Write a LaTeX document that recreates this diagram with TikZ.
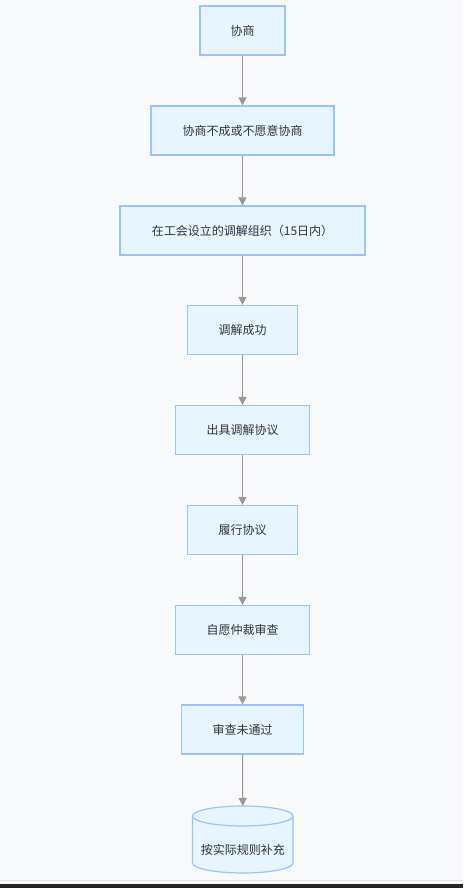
\documentclass[tikz,border=0pt]{standalone}
\usepackage{fontspec}
\newfontfamily\cjk{Noto Sans CJK SC}
\usetikzlibrary{arrows.meta}
\definecolor{bg}{HTML}{F8F9FB}
\definecolor{boxfill}{HTML}{E6F5FF}
\definecolor{boxline}{HTML}{99C2FF}
\definecolor{arrowc}{HTML}{999999}
\definecolor{txt}{HTML}{333333}
\tikzset{
  x=1pt,y=1pt,
  stepbox/.style={draw=boxline, fill=boxfill, line width=1.2pt, minimum height=49pt,
    inner sep=0pt, font=\cjk\fontsize{12}{14}\selectfont, text=txt},
  flow/.style={draw=arrowc, line width=1pt, -{Triangle[width=8pt,length=8pt]}}
}
\begin{document}
\begin{tikzpicture}
\useasboundingbox (0,0) rectangle (463,888);
\fill[bg] (0,7) rectangle (463,888);
\fill[white] (0,3.5) rectangle (463,6.5);
\fill[black!85] (0,0) rectangle (463,3.5);
\draw[black!12, line width=1pt] (0,7) -- (463,7);

\node[stepbox, minimum width=85pt]  (n1) at (242.5,857.5) {协商};
\node[stepbox, minimum width=183pt] (n2) at (242.5,757.5) {协商不成或不愿意协商};
\node[stepbox, minimum width=245pt] (n3) at (242.5,657.5) {在工会设立的调解组织（15日内）};
\node[stepbox, minimum width=110pt] (n4) at (242.5,558) {调解成功};
\node[stepbox, minimum width=134pt] (n5) at (242.5,458) {出具调解协议};
\node[stepbox, minimum width=110pt] (n6) at (242.5,358) {履行协议};
\node[stepbox, minimum width=134pt] (n7) at (242.5,258) {自愿仲裁审查};
\node[stepbox, minimum width=122pt] (n8) at (242.5,158.5) {审查未通过};

% cylinder
\filldraw[draw=boxline, fill=boxfill, line width=1.2pt]
  (192.5,72) -- (192.5,25) arc[start angle=180,end angle=360,x radius=50.25,y radius=10]
  -- (293,72) arc[start angle=0,end angle=180,x radius=50.25,y radius=10] -- cycle;
\draw[boxline, line width=1.2pt] (192.5,72) arc[start angle=180,end angle=360,x radius=50.25,y radius=10];
\coordinate (n9top) at (242.75,82);
\node[font=\cjk\fontsize{12}{14}\selectfont, text=txt] (n9) at (242.75,38) {按实际规则补充};

\draw[flow] (n1.south) -- (n2.north);
\draw[flow] (n2.south) -- (n3.north);
\draw[flow] (n3.south) -- (n4.north);
\draw[flow] (n4.south) -- (n5.north);
\draw[flow] (n5.south) -- (n6.north);
\draw[flow] (n6.south) -- (n7.north);
\draw[flow] (n7.south) -- (n8.north);
\draw[flow] (n8.south) -- (n9top);
\end{tikzpicture}
\end{document}
